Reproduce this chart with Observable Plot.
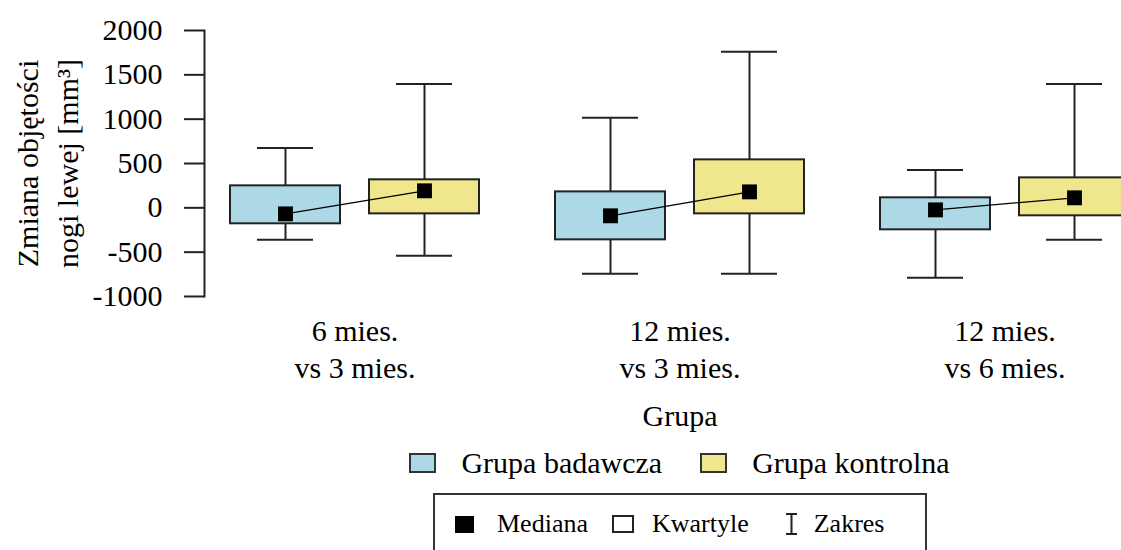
<!DOCTYPE html>
<html>
<head>
<meta charset="utf-8">
<script src="https://cdn.jsdelivr.net/npm/d3@7"></script>
<script src="https://cdn.jsdelivr.net/npm/@observablehq/plot@0.6"></script>
<style>
html, body { margin: 0; padding: 0; background: #fff; overflow: hidden; width: 1121px; height: 550px; }
#wrap { position: relative; width: 1121px; height: 550px; overflow: hidden; font-family: "Liberation Serif", "Times New Roman", serif; color: #000; }
#chart svg { display: block; max-width: none !important; }
#leg1 { position: absolute; top: 448px; left: 191px; width: 977px; height: 30px; display: flex; justify-content: center; align-items: center; font-size: 30px; line-height: 30px; }
#leg1 .sw { width: 27px; height: 20px; box-sizing: border-box; border: 2px solid #333; }
#leg1 .lab { margin-left: 25px; margin-right: 38px; white-space: nowrap; }
#leg1 .lab:last-child { margin-right: 0; }
#leg2 { position: absolute; top: 493px; left: 433px; width: 494px; height: 90px; box-sizing: border-box; border: 2px solid #333; display: flex; align-content: flex-start; padding: 16px 0 0 20px; font-size: 26px; line-height: 26px; align-items: flex-start; }
#leg2 .it { display: flex; align-items: center; height: 26px; white-space: nowrap; }
</style>
</head>
<body>
<div id="wrap">
  <div id="chart"></div>
  <div id="leg1"></div>
  <div id="leg2"></div>
</div>
<script>
// ---- data ----
const groups = ["6 mies.\nvs 3 mies.", "12 mies.\nvs 3 mies.", "12 mies.\nvs 6 mies."];
const series = ["Grupa badawcza", "Grupa kontrolna"];
const colors = ["#ADD8E6", "#F0E68C"];

const badawczaMin = [-361, -744, -789];
const badawczaQ1  = [-180, -361, -248];
const badawczaMed = [-68, -90, -23];
const badawczaQ3  = [248, 180, 113];
const badawczaMax = [676, 1015, 428];

const kontrolnaMin = [-541, -744, -361];
const kontrolnaQ1  = [-68, -68, -90];
const kontrolnaMed = [192, 180, 113];
const kontrolnaQ3  = [316, 541, 338];
const kontrolnaMax = [1398, 1759, 1398];

const yTicks = [-1000, -500, 0, 500, 1000, 1500, 2000];
const yTitle = "Zmiana objętości\nnogi lewej [mm³]";
const xTitle = "Grupa";
const legendItems = ["Mediana", "Kwartyle", "Zakres"];

// ---- table ----
const stats = [
  {min: badawczaMin, q1: badawczaQ1, med: badawczaMed, q3: badawczaQ3, max: badawczaMax},
  {min: kontrolnaMin, q1: kontrolnaQ1, med: kontrolnaMed, q3: kontrolnaQ3, max: kontrolnaMax}
];
const rows = [];
groups.forEach((g, i) => {
  series.forEach((s, j) => {
    const st = stats[j];
    rows.push({group: g, series: s, min: st.min[i], q1: st.q1[i], med: st.med[i], q3: st.q3[i], max: st.max[i]});
  });
});

const font = '"Liberation Serif", "Times New Roman", serif';
const ink = "#222";

const chart = Plot.plot({
  width: 1168,
  height: 440,
  marginLeft: 191,
  marginRight: 0,
  marginTop: 30,
  marginBottom: 144,
  style: {fontFamily: font, fontSize: "30px", color: "#000", background: "transparent", maxWidth: "none"},
  fx: {domain: groups, paddingInner: 0, paddingOuter: 0, label: null},
  x: {domain: series, paddingInner: 0.207, paddingOuter: 0.2667, axis: null},
  y: {domain: [-1000, 2000]},
  color: {domain: series, range: colors},
  marks: [
    Plot.frame({anchor: "left", dx: 12, facetAnchor: "left", stroke: ink, strokeWidth: 2}),
    Plot.axisY({ticks: yTicks, tickSize: 20, tickPadding: 22, tickFormat: d => String(d), fontSize: 30, dx: 12, stroke: ink, strokeWidth: 2, label: null, fill: "#000"}),
    Plot.axisFx({anchor: "bottom", tickSize: 0, tickPadding: 18, fontSize: 30, lineHeight: 1.233, label: null, fill: "#000"}),
    Plot.ruleX(rows, {fx: "group", x: "series", y1: "min", y2: "max", stroke: ink, strokeWidth: 2}),
    Plot.tickY(rows, {fx: "group", x: "series", y: "min", insetLeft: 27, insetRight: 27, stroke: ink, strokeWidth: 2}),
    Plot.tickY(rows, {fx: "group", x: "series", y: "max", insetLeft: 27, insetRight: 27, stroke: ink, strokeWidth: 2}),
    Plot.barY(rows, {fx: "group", x: "series", y1: "q1", y2: "q3", fill: "series", stroke: ink, strokeWidth: 2}),
    Plot.lineY(rows, {fx: "group", x: "series", y: "med", stroke: "#000", strokeWidth: 1.3}),
    Plot.dot(rows, {fx: "group", x: "series", y: "med", symbol: "square", r: 8.4, fill: "#000", stroke: "none"}),
    Plot.text([xTitle], {facet: "super", frameAnchor: "bottom", lineAnchor: "top", dy: 108, fontSize: 30, fill: "#000"}),
    Plot.text([yTitle], {facet: "super", frameAnchor: "left", textAnchor: "middle", rotate: -90, dx: -147, fontSize: 30, lineHeight: 1.33, fill: "#000"})
  ]
});
document.getElementById("chart").appendChild(chart);

// ---- legend 1: series colours ----
const leg1 = document.getElementById("leg1");
series.forEach((s, j) => {
  const sw = document.createElement("div");
  sw.className = "sw";
  sw.style.background = colors[j];
  const lab = document.createElement("div");
  lab.className = "lab";
  lab.textContent = s;
  leg1.appendChild(sw);
  leg1.appendChild(lab);
});

// ---- legend 2: box plot key ----
const leg2 = document.getElementById("leg2");
const icons = [
  '<svg width="19" height="17"><rect x="0" y="0" width="19" height="17" fill="#000"/></svg>',
  '<svg width="22" height="18"><rect x="1" y="1" width="20" height="16" fill="#fff" stroke="#222" stroke-width="2"/></svg>',
  '<svg width="15" height="22"><path d="M2,1H13M7.5,1V21M2,21H13" stroke="#222" stroke-width="2" fill="none"/></svg>'
];
const gapsBefore = [0, 24, 35];
const gapsText = [23, 18, 15];
legendItems.forEach((t, k) => {
  const it = document.createElement("div");
  it.className = "it";
  it.style.marginLeft = gapsBefore[k] + "px";
  it.innerHTML = icons[k] + '<span style="margin-left:' + gapsText[k] + 'px">' + t + '</span>';
  leg2.appendChild(it);
});
</script>
</body>
</html>
